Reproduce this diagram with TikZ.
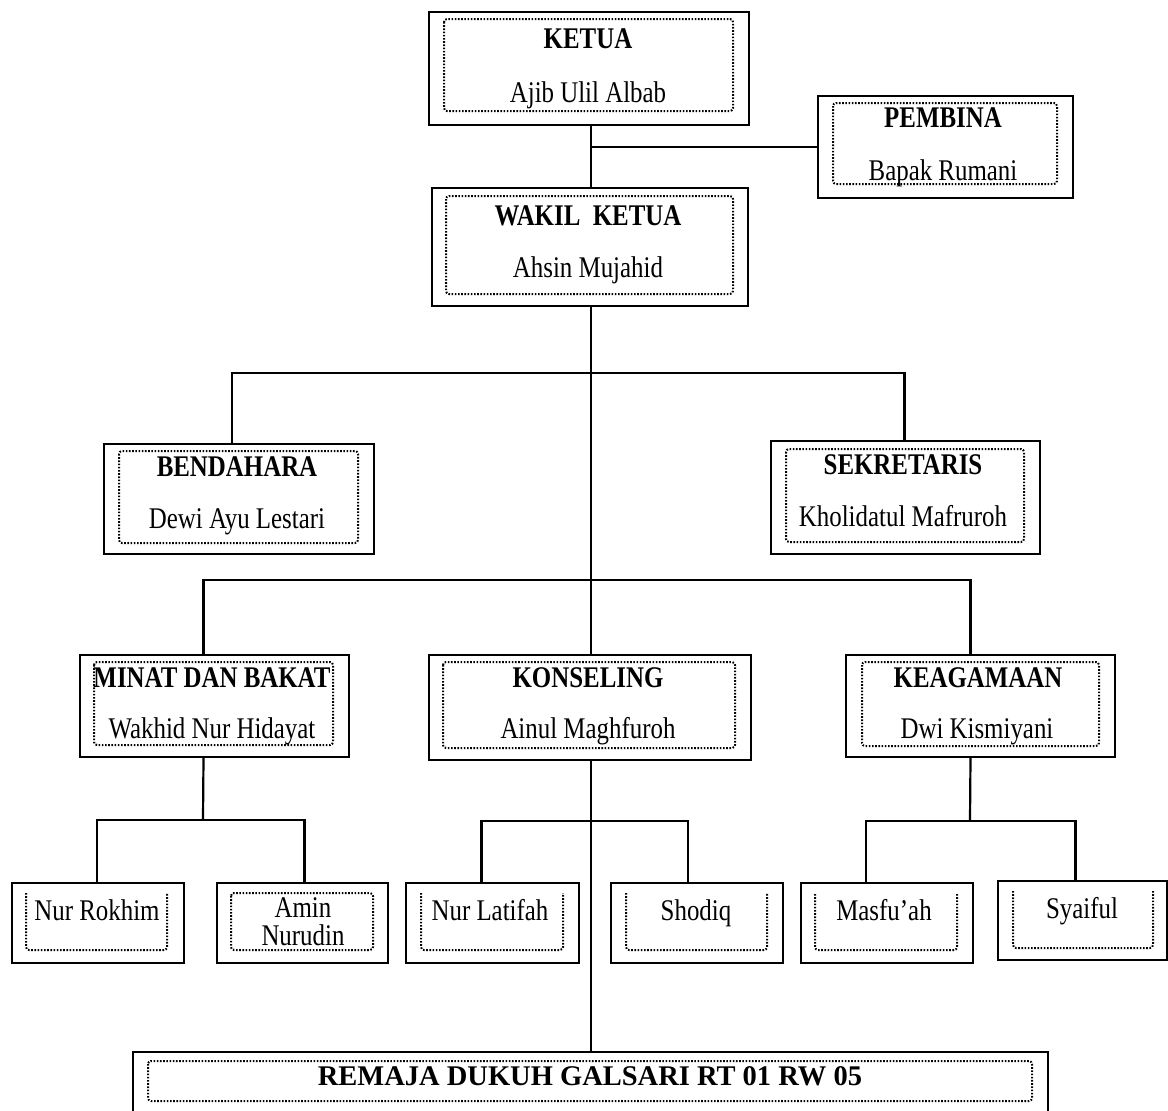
\documentclass[tikz,border=0pt]{standalone}
\usepackage{fontspec}
\setmainfont{Liberation Serif}[FakeStretch=0.83]
\newfontfamily\plainserif{Liberation Serif}
\usepackage{tikz}
\usetikzlibrary{calc}

\begin{document}
\begin{tikzpicture}[x=1pt, y=-1pt,
    orgbox/.style={draw, line width=2.2pt, inner sep=0pt},
    dotbox/.style={line width=2pt, dash pattern=on 1.6pt off 1.6pt, rounded corners=3pt},
    link/.style={line width=2.2pt},
    posname/.style={anchor=base, inner sep=0pt, font=\fontsize{30}{32}\selectfont\bfseries},
    person/.style={anchor=base, inner sep=0pt, font=\fontsize{30}{32}\selectfont}]
    \useasboundingbox (0,0) rectangle (1168,1111);
    \fill[white] (0,0) rectangle (1168,1111);
    \clip (0,0) rectangle (1168,1111);

    % the outer boxes
    \node[orgbox, minimum width=320, minimum height=113] (ketua) at (589,68.5) {};
    \node[orgbox, minimum width=255, minimum height=102] (pembina) at (945.5,147) {};
    \node[orgbox, minimum width=316, minimum height=118] (wakil) at (590,247) {};
    \node[orgbox, minimum width=270, minimum height=110] (bendahara) at (239,499) {};
    \node[orgbox, minimum width=269, minimum height=113] (sekretaris) at (905.5,497.5) {};
    \node[orgbox, minimum width=269, minimum height=102] (minat) at (214.5,706) {};
    \node[orgbox, minimum width=322, minimum height=105] (konseling) at (590,707.5) {};
    \node[orgbox, minimum width=269, minimum height=102] (keagamaan) at (980.5,706) {};
    \node[orgbox, minimum width=172, minimum height=80] (rokhim) at (98,923) {};
    \node[orgbox, minimum width=171, minimum height=80] (amin) at (302.5,923) {};
    \node[orgbox, minimum width=173, minimum height=80] (latifah) at (492.5,923) {};
    \node[orgbox, minimum width=172, minimum height=80] (shodiq) at (697,923) {};
    \node[orgbox, minimum width=172, minimum height=80] (masfuah) at (887,923) {};
    \node[orgbox, minimum width=169, minimum height=79] (syaiful) at (1082.5,920.5) {};
    \node[orgbox, minimum width=915, minimum height=80] (remaja) at (590.5,1092) {};

    % the dotted inner frames
    \draw[dotbox] (444,19) rectangle (733,111);
    \draw[dotbox] (833,103) rectangle (1057,184);
    \draw[dotbox] (446,196) rectangle (733,294);
    \draw[dotbox] (119,451) rectangle (358,543);
    \draw[dotbox] (786,449) rectangle (1024,542);
    \draw[dotbox] (94,662) rectangle (333,745);
    \draw[dotbox] (443,662) rectangle (735,748);
    \draw[dotbox] (862,662) rectangle (1099,746);
    \draw[dotbox] (231,893) rectangle (373,950);
    \draw[dotbox] (148,1061) rectangle (1032,1101);
    \draw[dotbox] (26,893) -- (26,950) -- (167,950) -- (167,893);
    \draw[dotbox] (421,893) -- (421,950) -- (563,950) -- (563,893);
    \draw[dotbox] (626,893) -- (626,950) -- (767,950) -- (767,893);
    \draw[dotbox] (815,894) -- (815,950) -- (957,950) -- (957,894);
    \draw[dotbox] (1013,891) -- (1013,948) -- (1153,948) -- (1153,891);

    % titles and names
    \node[posname] (ketuat) at (588,48) {KETUA};
    \node[person] (ketuan) at (588,102) {Ajib Ulil Albab};
    \node[posname] (pembinat) at (943,127) {PEMBINA};
    \node[person] (pembinan) at (943,180) {Bapak Rumani};
    \node[posname] (wakilt) at (588,225) {WAKIL\ \ KETUA};
    \node[person] (wakiln) at (588,277) {Ahsin Mujahid};
    \node[posname] (bendaharat) at (237,476) {BENDAHARA};
    \node[person] (bendaharan) at (237,528) {Dewi Ayu Lestari};
    \node[posname] (sekretarist) at (903,474) {SEKRETARIS};
    \node[person] (sekretarisn) at (903,526) {Kholidatul Mafruroh};
    \node[posname] (minatt) at (212,687) {MINAT DAN BAKAT};
    \node[person] (minatn) at (212,738) {Wakhid Nur Hidayat};
    \node[posname] (konselingt) at (588,687) {KONSELING};
    \node[person] (konselingn) at (588,738) {Ainul Maghfuroh};
    \node[posname] (keagamaant) at (978,687) {KEAGAMAAN};
    \node[person] (keagamaann) at (977,738) {Dwi Kismiyani};
    \node[person] (rokhimn) at (97,920) {Nur Rokhim};
    \node[person] (aminn) at (303,917) {Amin};
    \node[person] (aminm) at (303,945) {Nurudin};
    \node[person] (latifahn) at (490,920) {Nur Latifah};
    \node[person] (shodiqn) at (696,920) {Shodiq};
    \node[person] (masfuahn) at (884,920) {Masfu'ah};
    \node[person] (syaifuln) at (1082,918) {Syaiful};
    \node[anchor=base, inner sep=0pt, font=\plainserif\fontsize{28.5}{30}\selectfont\bfseries] (remajat) at (590,1085) {REMAJA DUKUH GALSARI RT 01 RW 05};

    % the bus points
    \coordinate (bus1) at (591,373);
    \coordinate (bus2) at (591,580);
    \coordinate (busm) at (203,820);
    \coordinate (busk) at (591,821);
    \coordinate (busa) at (970,821);

    % the connectors
    \draw[link] ([xshift=2]ketua.south) -- ([xshift=1]wakil.north);
    \draw[link] ([xshift=2]ketua.south |- pembina.west) -- (pembina.west);
    \draw[link] ([xshift=1]wakil.south) -- ([xshift=1]konseling.north);
    \draw[link] ([xshift=-7]bendahara.north) |- (bus1) -| ([xshift=-1]sekretaris.north);
    \draw[link] ([xshift=-11]minat.north) |- (bus2) -| ([xshift=-10]keagamaan.north);
    \draw[link] ([xshift=1]konseling.south) -- ([xshift=1]konseling.south |- remaja.north);
    \draw[link] ([xshift=-11]minat.south) -- (busm);
    \draw[link] ([xshift=-1]rokhim.north) |- (busm) -| ([xshift=2]amin.north);
    \draw[link] ([xshift=-11]latifah.north) |- (busk) -| ([xshift=-9]shodiq.north);
    \draw[link] ([xshift=-10]keagamaan.south) -- (busa);
    \draw[link] ([xshift=-21]masfuah.north) |- (busa) -| ([xshift=-7]syaiful.north);
\end{tikzpicture}
\end{document}
